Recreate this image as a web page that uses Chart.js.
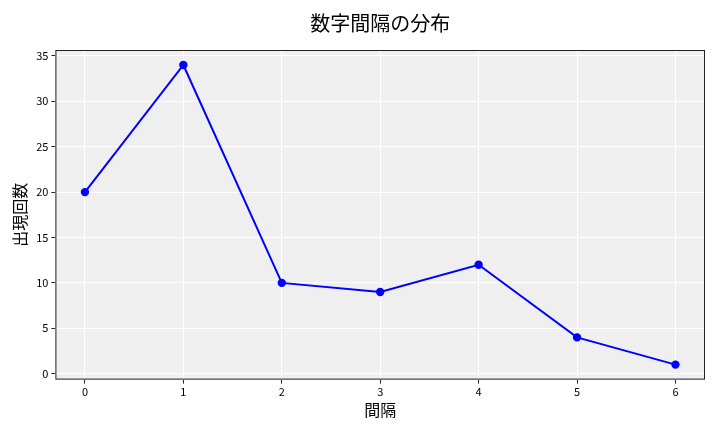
<!DOCTYPE html>
<html>
<head>
<meta charset="utf-8">
<script src="https://cdn.jsdelivr.net/npm/chart.js@4"></script>
<style>
  html, body { margin: 0; padding: 0; background: #fff; }
  #wrap { width: 720px; height: 432px; }
</style>
</head>
<body>
<div id="wrap"><canvas id="chart"></canvas></div>
<script>
const intervals = [0, 1, 2, 3, 4, 5, 6];
const counts = [20, 34, 10, 9, 12, 4, 1];
const yTicks = [0, 5, 10, 15, 20, 25, 30, 35];
const titleText = '数字間隔の分布';
const xLabel = '間隔';
const yLabel = '出現回数';

const FONT = "'Noto Sans CJK JP', 'Noto Sans', sans-serif";

// grey plot background + dark frame like matplotlib
const frame = {
  id: 'frame',
  beforeDraw(chart) {
    const { ctx, chartArea: a } = chart;
    ctx.save();
    ctx.fillStyle = '#EFEFEF';
    ctx.fillRect(a.left, a.top, a.right - a.left, a.bottom - a.top);
    ctx.restore();
  },
  afterDatasetsDraw(chart) {
    const { ctx, chartArea: a } = chart;
    ctx.save();
    ctx.strokeStyle = '#222';
    ctx.lineWidth = 1;
    ctx.strokeRect(a.left + 0.5, a.top + 0.5, a.right - a.left - 1, a.bottom - a.top - 1);
    ctx.restore();
  },
};

new Chart(document.getElementById('chart').getContext('2d'), {
  type: 'line',
  data: {
    datasets: [{
      data: intervals.map((x, i) => ({ x, y: counts[i] })),
      borderColor: '#0000FF',
      backgroundColor: '#0000FF',
      borderWidth: 2,
      pointRadius: 3.2,
      pointHoverRadius: 3.2,
      tension: 0,
      fill: false,
    }],
  },
  options: {
    responsive: true,
    maintainAspectRatio: false,
    animation: false,
    layout: { padding: { left: 6, right: 15, top: 2, bottom: 8 } },
    plugins: {
      legend: { display: false },
      tooltip: { enabled: false },
      title: {
        display: true,
        fullSize: false,
        text: titleText,
        color: '#000',
        font: { family: FONT, size: 20, weight: 'normal' },
        padding: { top: 9, bottom: 15 },
      },
    },
    scales: {
      x: {
        type: 'linear',
        min: -0.3,
        max: 6.3,
        afterBuildTicks: (s) => { s.ticks = intervals.map((v) => ({ value: v })); },
        ticks: { color: '#000', font: { family: FONT, size: 11 }, padding: 2 },
        grid: { color: '#FFFFFF', lineWidth: 1, tickColor: '#222', tickLength: 4 },
        border: { display: false },
        title: { display: true, text: xLabel, color: '#000', font: { family: FONT, size: 16 }, padding: { top: 0 } },
      },
      y: {
        type: 'linear',
        min: -0.65,
        max: 35.65,
        afterBuildTicks: (s) => { s.ticks = yTicks.map((v) => ({ value: v })); },
        ticks: { color: '#000', font: { family: FONT, size: 11 }, padding: 3 },
        grid: { color: '#FFFFFF', lineWidth: 1, tickColor: '#222', tickLength: 4 },
        border: { display: false },
        title: { display: true, text: yLabel, color: '#000', font: { family: FONT, size: 16 }, padding: { bottom: 4 } },
      },
    },
  },
  plugins: [frame],
});
</script>
</body>
</html>
